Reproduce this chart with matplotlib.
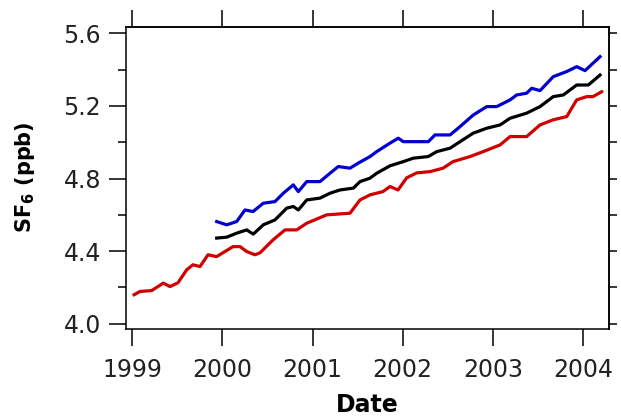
import matplotlib.pyplot as plt
import numpy as np

# decimal year / SF6 mixing ratio (ppb)
red_t = [1999.02, 1999.085, 1999.215, 1999.344, 1999.418, 1999.507, 1999.603, 1999.673,
         1999.751, 1999.840, 1999.936, 2000.117, 2000.195, 2000.269, 2000.361, 2000.417,
         2000.561, 2000.694, 2000.824, 2000.935, 2001.157, 2001.415, 2001.526, 2001.637,
         2001.781, 2001.859, 2001.948, 2002.044, 2002.155, 2002.303, 2002.447, 2002.558,
         2002.747, 2002.891, 2003.080, 2003.191, 2003.375, 2003.523, 2003.667, 2003.819,
         2003.930, 2004.041, 2004.111, 2004.207]
red_v = [4.160, 4.178, 4.183, 4.224, 4.205, 4.226, 4.297, 4.325,
         4.315, 4.380, 4.370, 4.425, 4.425, 4.398, 4.380, 4.391,
         4.462, 4.517, 4.517, 4.554, 4.600, 4.609, 4.682, 4.710,
         4.728, 4.756, 4.737, 4.804, 4.831, 4.838, 4.857, 4.893,
         4.921, 4.948, 4.985, 5.031, 5.031, 5.095, 5.123, 5.141,
         5.233, 5.251, 5.251, 5.278]

blue_t = [1999.936, 2000.047, 2000.158, 2000.250, 2000.339, 2000.453, 2000.583, 2000.675,
          2000.786, 2000.842, 2000.935, 2001.082, 2001.193, 2001.285, 2001.415, 2001.504,
          2001.637, 2001.711, 2001.859, 2001.951, 2002.006, 2002.284, 2002.358, 2002.525,
          2002.636, 2002.783, 2002.932, 2003.043, 2003.191, 2003.264, 2003.375, 2003.431,
          2003.523, 2003.670, 2003.819, 2003.930, 2004.022, 2004.189]
blue_v = [4.563, 4.545, 4.563, 4.627, 4.618, 4.664, 4.673, 4.719,
          4.765, 4.728, 4.783, 4.783, 4.829, 4.866, 4.857, 4.884,
          4.921, 4.948, 4.995, 5.022, 5.003, 5.003, 5.040, 5.040,
          5.086, 5.150, 5.196, 5.196, 5.233, 5.260, 5.270, 5.297,
          5.284, 5.361, 5.389, 5.416, 5.394, 5.471]

black_t = [1999.936, 2000.047, 2000.158, 2000.269, 2000.342, 2000.453, 2000.583, 2000.713,
           2000.786, 2000.842, 2000.935, 2001.082, 2001.193, 2001.304, 2001.452, 2001.526,
           2001.637, 2001.711, 2001.859, 2002.006, 2002.117, 2002.284, 2002.377, 2002.525,
           2002.636, 2002.783, 2002.932, 2003.080, 2003.191, 2003.375, 2003.523, 2003.670,
           2003.781, 2003.930, 2004.059, 2004.189]
black_v = [4.472, 4.477, 4.499, 4.517, 4.494, 4.545, 4.572, 4.637,
           4.646, 4.627, 4.682, 4.692, 4.719, 4.737, 4.747, 4.783,
           4.802, 4.829, 4.870, 4.893, 4.912, 4.921, 4.948, 4.967,
           5.003, 5.050, 5.077, 5.095, 5.132, 5.160, 5.196, 5.251,
           5.260, 5.315, 5.315, 5.370]

years = [1999, 2000, 2001, 2002, 2003, 2004]
yticks = [4.0, 4.4, 4.8, 5.2, 5.6]

fig = plt.figure(figsize=(6.21, 4.16), dpi=100)
ax = fig.add_axes([0.2029, 0.2103, 0.7783, 0.7255])

ax.plot(red_t, red_v, color='#d00000', lw=2.3)
ax.plot(black_t, black_v, color='black', lw=2.3)
ax.plot(blue_t, blue_v, color='#0000d0', lw=2.3)

ax.set_xlim(1998.930, 2004.292)
ax.set_ylim(3.974, 5.636)

ax.set_xticks(years)
ax.set_xticklabels([str(y) for y in years])
ax.set_yticks(yticks)
ax.set_yticklabels(['%.1f' % v for v in yticks])
ax.set_yticks([4.2, 4.6, 5.0, 5.4], minor=True)

ax.tick_params(axis='both', which='major', direction='out', length=12, width=1.1,
               labelsize=17, color='black', labelcolor='#222222')
ax.tick_params(axis='x', pad=9)
ax.tick_params(axis='y', pad=6)
ax.tick_params(axis='y', which='minor', direction='out', length=6, width=1.1)

# mirrored axes: years on top, 0.2 steps on the right, no labels
top = ax.secondary_xaxis('top')
top.set_xticks(years)
top.tick_params(direction='out', length=12, width=1.1, labeltop=False)
right = ax.secondary_yaxis('right')
right.set_yticks([4.0, 4.2, 4.4, 4.6, 4.8, 5.0, 5.2, 5.4, 5.6])
right.tick_params(direction='out', length=6, width=1.1, labelright=False)

for sp in list(ax.spines.values()) + [top.spines['top'], right.spines['right']]:
    sp.set_linewidth(1.1)

ax.set_xlabel('Date', fontsize=17, fontweight='bold', labelpad=8)
ax.set_ylabel(r'SF$_\mathbf{6}$ (ppb)', fontsize=15, fontweight='bold', labelpad=19)

plt.savefig('out.png', dpi=100)
